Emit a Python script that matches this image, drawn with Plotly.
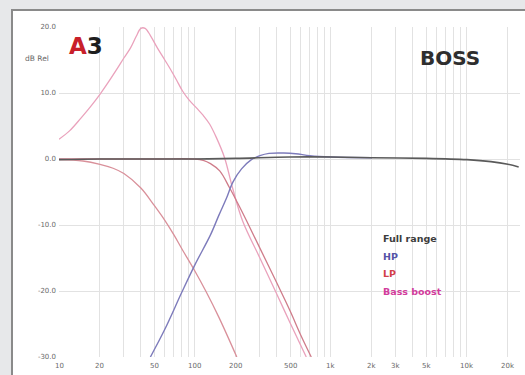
import math
import plotly.graph_objects as go

# ---- data ----
full_f = [10, 20, 50, 100, 200, 500, 1000, 2000, 5000, 10000, 15000, 20000, 24000]
full_db = [-0.1, 0.0, 0.0, 0.0, 0.1, 0.3, 0.3, 0.2, 0.1, -0.1, -0.4, -0.8, -1.2]

hp_f = [47, 60, 80, 100, 130, 150, 170, 190, 220, 260, 300, 350, 450, 550, 700, 1000, 2000]
hp_db = [-30.0, -25.8, -20.2, -16.0, -11.5, -8.5, -6.0, -3.5, -1.5, -0.1, 0.5, 0.85, 0.9, 0.8, 0.5, 0.3, 0.2]

lp_low_f = [10, 15, 20, 25, 30, 40, 50, 60, 70, 80, 100, 120, 150, 203]
lp_low_db = [-0.1, -0.3, -0.8, -1.4, -2.2, -4.4, -7.0, -9.3, -11.5, -13.6, -17.0, -20.0, -24.0, -30.0]

lp_f = [10, 50, 100, 115, 130, 152, 180, 205, 240, 300, 400, 500, 600, 716]
lp_db = [0.0, 0.0, 0.0, -0.2, -0.7, -1.8, -4.4, -6.6, -9.4, -13.5, -18.8, -23.0, -26.7, -30.0]

bb_f = [10, 12, 14.5, 17, 20, 23, 27, 30, 33.5, 37, 40, 43, 47, 53, 60, 66, 73, 81, 90, 103, 115, 128, 144, 165, 189, 224, 300, 400, 500, 658]
bb_db = [3.0, 4.3, 6.2, 7.9, 9.8, 11.6, 13.8, 15.3, 16.8, 18.6, 19.8, 19.8, 18.7, 16.8, 15.0, 13.6, 12.0, 10.3, 9.0, 7.7, 6.6, 5.3, 3.2, 0.2, -4.4, -9.4, -15.0, -20.5, -24.8, -30.0]

series_names = ["Full range", "HP", "LP", "Bass boost"]
series_text_colors = ["#3c3c3c", "#5553a6", "#d2404a", "#d23c9c"]

x_grid = [m * 10 ** d for d in range(1, 5) for m in range(1, 10) if m * 10 ** d <= 20000]
x_tick_vals = [10, 20, 50, 100, 200, 500, 1000, 2000, 3000, 5000, 10000, 20000]
x_tick_text = ["10", "20", "50", "100", "200", "500", "1k", "2k", "3k", "5k", "10k", "20k"]
y_ticks = [20, 10, 0, -10, -20, -30]
y_labels = ["20.0", "10.0", "0.0", "-10.0", "-20.0", "-30.0"]

fig = go.Figure()
fig.add_trace(go.Scatter(x=lp_low_f, y=lp_low_db, mode="lines",
                         line=dict(color="#d9909a", width=1.3), line_shape="spline"))
fig.add_trace(go.Scatter(x=bb_f, y=bb_db, mode="lines",
                         line=dict(color="#eaa2bc", width=1.3), line_shape="spline"))
fig.add_trace(go.Scatter(x=lp_f, y=lp_db, mode="lines",
                         line=dict(color="#cf7c8a", width=1.3), line_shape="spline"))
fig.add_trace(go.Scatter(x=hp_f, y=hp_db, mode="lines",
                         line=dict(color="#7d7bbb", width=1.4), line_shape="spline"))
fig.add_trace(go.Scatter(x=full_f, y=full_db, mode="lines",
                         line=dict(color="#5a5a5a", width=1.6), line_shape="spline"))

L, R, T, B = 59, 5, 27, 18
W, H = 525, 375
pw, ph = W - L - R, H - T - B

def px_x(p):
    return (p - L) / pw

def px_y(p):
    return (H - B - p) / ph

fig.add_shape(type="rect", xref="paper", yref="paper",
              x0=px_x(12), x1=px_x(540), y0=px_y(390), y1=px_y(10),
              fillcolor="white", line=dict(color="#8a8a8a", width=2), layer="below")

fig.update_layout(
    width=W, height=H,
    margin=dict(l=L, r=R, t=T, b=B, autoexpand=False),
    paper_bgcolor="#e7e8ea",
    plot_bgcolor="rgba(0,0,0,0)",
    showlegend=False,
    hovermode=False,
    font=dict(family="DejaVu Sans", size=7, color="#666"),
)
fig.update_xaxes(type="log", range=[1, 4.39], automargin=False,
                 tickvals=x_grid, showticklabels=False,
                 showgrid=True, gridcolor="#e2e2e2", gridwidth=1,
                 showline=False, zeroline=False, ticks="")
fig.update_yaxes(range=[-30, 20], tickvals=y_ticks, ticktext=y_labels, automargin=False,
                 showgrid=True, gridcolor="#e2e2e2", gridwidth=1,
                 showline=False, zeroline=False, ticks="",
                 tickfont=dict(size=7, color="#6a6a6a"), ticklabelstandoff=2)

for v, t in zip(x_tick_vals, x_tick_text):
    fig.add_annotation(x=math.log10(v), y=px_y(366), xref="x", yref="paper",
                       text=t, showarrow=False, xanchor="center", yanchor="middle",
                       font=dict(size=7, color="#6a6a6a"))

fig.add_annotation(x=px_x(51), y=px_y(59), xref="paper", yref="paper",
                   text="dB Rel", showarrow=False, xanchor="right", yanchor="middle",
                   font=dict(size=7.5, color="#666"))
fig.add_annotation(x=px_x(86), y=px_y(46), xref="paper", yref="paper",
                   text="<span style='color:#c8202a'>A</span><span style='color:#1e1e1e'>3</span>",
                   showarrow=False, xanchor="center", yanchor="middle",
                   font=dict(size=23, family="DejaVu Sans", weight="bold"))
fig.add_annotation(x=px_x(450), y=px_y(58), xref="paper", yref="paper",
                   text="BOSS", showarrow=False, xanchor="center", yanchor="middle",
                   font=dict(size=20, family="DejaVu Sans", color="#2e2e2e", weight="bold"))

legend_y = [239, 256, 273, 291]
for name, col, yy in zip(series_names, series_text_colors, legend_y):
    fig.add_annotation(x=px_x(381), y=px_y(yy), xref="paper", yref="paper",
                       text=name, showarrow=False, xanchor="left", yanchor="middle",
                       font=dict(size=9.5, family="DejaVu Sans", color=col, weight="bold"))

fig.write_html("out.html", config={"displayModeBar": False},
               post_script="document.body.style.margin='0px';document.body.style.overflow='hidden';")
